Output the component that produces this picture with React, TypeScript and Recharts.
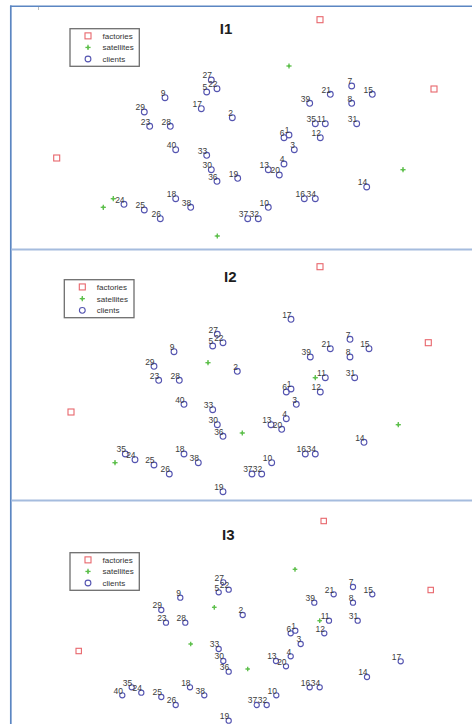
import React from 'react';
import { ScatterChart, Scatter, XAxis, YAxis } from 'recharts';

type Pt = { id?: number; x: number; y: number };

// ---------- Panel I1 (local coordinates) ----------
const factories1: Pt[] = [
  { x: 320, y: 19.7 },
  { x: 434, y: 89 },
  { x: 56.7, y: 158 },
];
const satellites1: Pt[] = [
  { x: 289, y: 66 },
  { x: 403, y: 169.7 },
  { x: 113.3, y: 198.7 },
  { x: 103.3, y: 207.3 },
  { x: 217.3, y: 236 },
];
const clients1: Pt[] = [
  { id: 27, x: 211.3, y: 80 },
  { id: 22, x: 217, y: 88.7 },
  { id: 5, x: 206.7, y: 92 },
  { id: 9, x: 165, y: 97.7 },
  { id: 17, x: 201.3, y: 108.7 },
  { id: 2, x: 232.3, y: 117.7 },
  { id: 29, x: 144.3, y: 112 },
  { id: 23, x: 149.7, y: 126.3 },
  { id: 28, x: 170.3, y: 126.3 },
  { id: 40, x: 175.7, y: 149.7 },
  { id: 33, x: 206.7, y: 155.3 },
  { id: 30, x: 211.3, y: 169.7 },
  { id: 36, x: 217, y: 181.3 },
  { id: 19, x: 237.7, y: 178.3 },
  { id: 13, x: 268.3, y: 169.7 },
  { id: 20, x: 279.3, y: 175 },
  { id: 4, x: 284, y: 164 },
  { id: 6, x: 284, y: 137.7 },
  { id: 1, x: 289, y: 135 },
  { id: 3, x: 294.3, y: 149.7 },
  { id: 39, x: 309.7, y: 103.3 },
  { id: 21, x: 330.3, y: 94.3 },
  { id: 7, x: 351.7, y: 86 },
  { id: 15, x: 372.3, y: 94.3 },
  { id: 8, x: 351.7, y: 103.3 },
  { id: 35, x: 315.3, y: 123.7 },
  { id: 11, x: 325.3, y: 123.7 },
  { id: 31, x: 356.7, y: 123.7 },
  { id: 12, x: 320.3, y: 137.7 },
  { id: 14, x: 366.7, y: 187 },
  { id: 16, x: 304.3, y: 198.7 },
  { id: 34, x: 315.3, y: 198.7 },
  { id: 10, x: 268.3, y: 207.3 },
  { id: 37, x: 247.7, y: 218.7 },
  { id: 32, x: 258.3, y: 218.7 },
  { id: 18, x: 175.7, y: 198.7 },
  { id: 38, x: 190.7, y: 207.3 },
  { id: 24, x: 124, y: 204.3 },
  { id: 25, x: 144.3, y: 210 },
  { id: 26, x: 160.3, y: 218.7 },
];

// ---------- Panel I2 ----------
const factories2: Pt[] = [
  { x: 320, y: 21.7 },
  { x: 428.3, y: 97.7 },
  { x: 71, y: 167 },
];
const satellites2: Pt[] = [
  { x: 208, y: 117.7 },
  { x: 315.3, y: 132.7 },
  { x: 398.3, y: 179.7 },
  { x: 242.3, y: 188 },
  { x: 115, y: 217.7 },
];
const clients2: Pt[] = [
  { id: 17, x: 291, y: 74.3 },
  { id: 27, x: 217.3, y: 89.3 },
  { id: 22, x: 223, y: 97.7 },
  { id: 5, x: 212.7, y: 101 },
  { id: 9, x: 174, y: 106.7 },
  { id: 21, x: 330.3, y: 103.7 },
  { id: 7, x: 350, y: 94.3 },
  { id: 15, x: 369, y: 103.7 },
  { id: 39, x: 310.3, y: 112 },
  { id: 8, x: 350, y: 112 },
  { id: 29, x: 154, y: 121.3 },
  { id: 2, x: 237.3, y: 126.3 },
  { id: 23, x: 158.7, y: 135.3 },
  { id: 28, x: 179.3, y: 135.3 },
  { id: 11, x: 325.3, y: 132.7 },
  { id: 31, x: 354.7, y: 132.7 },
  { id: 6, x: 286.3, y: 147 },
  { id: 1, x: 291, y: 144 },
  { id: 12, x: 320.3, y: 147 },
  { id: 40, x: 184, y: 159.3 },
  { id: 3, x: 296.3, y: 159.3 },
  { id: 33, x: 212.7, y: 164.7 },
  { id: 4, x: 286.3, y: 173.7 },
  { id: 30, x: 217.3, y: 179.7 },
  { id: 13, x: 271, y: 179.7 },
  { id: 20, x: 281.7, y: 184.3 },
  { id: 36, x: 223, y: 191.3 },
  { id: 14, x: 364, y: 197.3 },
  { id: 35, x: 125.3, y: 209 },
  { id: 24, x: 135, y: 214.7 },
  { id: 18, x: 184, y: 209 },
  { id: 16, x: 305.3, y: 209 },
  { id: 34, x: 315.3, y: 209 },
  { id: 38, x: 198.3, y: 217.7 },
  { id: 10, x: 271.7, y: 217.7 },
  { id: 25, x: 154, y: 220 },
  { id: 26, x: 169.3, y: 229 },
  { id: 37, x: 252, y: 229 },
  { id: 32, x: 261.7, y: 229 },
  { id: 19, x: 223, y: 246.7 },
];

// ---------- Panel I3 ----------
const factories3: Pt[] = [
  { x: 323.7, y: 26 },
  { x: 430.7, y: 95 },
  { x: 78.7, y: 156 },
];
const satellites3: Pt[] = [
  { x: 295, y: 74.3 },
  { x: 214.3, y: 112.3 },
  { x: 319.7, y: 125.7 },
  { x: 190.7, y: 149 },
  { x: 247.7, y: 174 },
];
const clients3: Pt[] = [
  { id: 27, x: 223.3, y: 87.3 },
  { id: 22, x: 228.7, y: 94.7 },
  { id: 5, x: 218.7, y: 97.3 },
  { id: 9, x: 180.3, y: 102.7 },
  { id: 7, x: 353, y: 92 },
  { id: 21, x: 333.7, y: 99.3 },
  { id: 15, x: 372.3, y: 99.3 },
  { id: 39, x: 314.3, y: 107.7 },
  { id: 8, x: 353, y: 107.7 },
  { id: 29, x: 161.3, y: 115 },
  { id: 2, x: 242.7, y: 120 },
  { id: 11, x: 329, y: 125.7 },
  { id: 31, x: 357.7, y: 125.7 },
  { id: 23, x: 166, y: 127.7 },
  { id: 28, x: 185.3, y: 127.7 },
  { id: 6, x: 290.7, y: 138.3 },
  { id: 1, x: 295.3, y: 135.7 },
  { id: 12, x: 324.3, y: 138.3 },
  { id: 3, x: 300.7, y: 149 },
  { id: 33, x: 218.7, y: 154 },
  { id: 4, x: 290.7, y: 161.3 },
  { id: 30, x: 223.3, y: 166 },
  { id: 13, x: 276, y: 166 },
  { id: 20, x: 286, y: 171.3 },
  { id: 17, x: 400.7, y: 166.3 },
  { id: 36, x: 228.7, y: 176.7 },
  { id: 14, x: 367, y: 182 },
  { id: 18, x: 190, y: 192.3 },
  { id: 16, x: 309.7, y: 192.3 },
  { id: 34, x: 319.7, y: 192.3 },
  { id: 35, x: 131.7, y: 192.3 },
  { id: 24, x: 141.3, y: 197.7 },
  { id: 40, x: 122.3, y: 200.3 },
  { id: 25, x: 161.3, y: 202 },
  { id: 38, x: 204.3, y: 200.3 },
  { id: 10, x: 276.3, y: 200.3 },
  { id: 26, x: 175.7, y: 210 },
  { id: 37, x: 256.7, y: 210 },
  { id: 32, x: 266.7, y: 210 },
  { id: 19, x: 228.7, y: 225.7 },
];

const legendLabels = ['factories', 'satellites', 'clients'];

const RED = '#e8666c';
const GREEN = '#5cbf4a';
const BLUE = '#5454b0';
const FONT = '"Liberation Sans", Arial, sans-serif';

const makeFactory = (s: number) => (p: any) => {
  const { cx, cy } = p;
  const h = 3 * s;
  return <rect x={cx - h} y={cy - h} width={2 * h} height={2 * h} fill="none" stroke={RED} strokeWidth={1.1} />;
};

const makeSatellite = (s: number) => (p: any) => {
  const { cx, cy } = p;
  const h = 2.6 * s;
  return (
    <g>
      <line x1={cx - h} y1={cy} x2={cx + h} y2={cy} stroke={GREEN} strokeWidth={1.3} />
      <line x1={cx} y1={cy - h} x2={cx} y2={cy + h} stroke={GREEN} strokeWidth={1.3} />
      <circle cx={cx} cy={cy} r={1.2 * s} fill={GREEN} />
    </g>
  );
};

const makeClient = (s: number) => (p: any) => {
  const { cx, cy, payload } = p;
  return (
    <g>
      <circle cx={cx} cy={cy} r={2.9 * s} fill="none" stroke={BLUE} strokeWidth={1.1} />
      <text x={cx + 0.6} y={cy - 1.8} textAnchor="end" fontSize={8.5} fill="#3c3c3c" fontFamily={FONT}>
        {payload.id}
      </text>
    </g>
  );
};

type PanelProps = {
  top: number;
  height: number;
  factories: Pt[];
  satellites: Pt[];
  clients: Pt[];
  title: string;
  titleX: number;
  titleY: number;
  lx: number;
  ly: number;
  lw: number;
  lh: number;
  mScale: number;
};

const Panel = (pp: PanelProps) => {
  const { top, height, factories, satellites, clients, title, titleX, titleY, lx, ly, lw, lh, mScale } = pp;
  const rowGap = lh / 3.25;
  const rows = [0, 1, 2].map((i) => ly + rowGap * (0.62 + i));
  const mx = lx + 18;
  return (
    <div style={{ position: 'absolute', left: 0, top, width: 472, height }}>
      <ScatterChart width={472} height={height} margin={{ top: 0, right: 0, bottom: 0, left: 0 }}>
        <XAxis type="number" dataKey="x" domain={[0, 472]} hide allowDataOverflow />
        <YAxis type="number" dataKey="y" domain={[0, height]} reversed hide allowDataOverflow />
        <Scatter data={factories} shape={makeFactory(mScale)} isAnimationActive={false} />
        <Scatter data={satellites} shape={makeSatellite(mScale)} isAnimationActive={false} />
        <Scatter data={clients} shape={makeClient(mScale)} isAnimationActive={false} />
      </ScatterChart>
      <svg width={472} height={height} style={{ position: 'absolute', left: 0, top: 0, pointerEvents: 'none' }}>
        <text x={titleX} y={titleY} textAnchor="middle" fontSize={15} fontWeight="bold" fill="#1e1e1e" fontFamily={FONT}>
          {title}
        </text>
        <rect x={lx} y={ly} width={lw} height={lh} fill="#fff" stroke="#6e6e6e" strokeWidth={1.3} />
        {rows.map((ry, i) => (
          <g key={i}>
            {i === 0 && <rect x={mx - 3} y={ry - 3} width={6} height={6} fill="none" stroke={RED} strokeWidth={1.1} />}
            {i === 1 && (
              <g>
                <line x1={mx - 2.6} y1={ry} x2={mx + 2.6} y2={ry} stroke={GREEN} strokeWidth={1.3} />
                <line x1={mx} y1={ry - 2.6} x2={mx} y2={ry + 2.6} stroke={GREEN} strokeWidth={1.3} />
                <circle cx={mx} cy={ry} r={1.2} fill={GREEN} />
              </g>
            )}
            {i === 2 && <circle cx={mx} cy={ry} r={2.9} fill="none" stroke={BLUE} strokeWidth={1.1} />}
            <text x={lx + 32.5} y={ry + 3} fontSize={8} fill="#333" fontFamily={FONT}>
              {legendLabels[i]}
            </text>
          </g>
        ))}
      </svg>
    </div>
  );
};

export default function App() {
  return (
    <div style={{ position: 'absolute', left: 0, top: 0, width: 472, height: 724, background: '#fff', overflow: 'hidden' }}>
      <Panel top={0} height={250} factories={factories1} satellites={satellites1} clients={clients1}
        title="I1" titleX={226} titleY={34} lx={70} ly={28.7} lw={69.3} lh={37.6} mScale={1} />
      <Panel top={245} height={255} factories={factories2} satellites={satellites2} clients={clients2}
        title="I2" titleX={230.3} titleY={37.3} lx={64.3} ly={34.7} lw={69.7} lh={38} mScale={1} />
      <Panel top={495} height={229} factories={factories3} satellites={satellites3} clients={clients3}
        title="I3" titleX={228.3} titleY={45} lx={70} ly={57.7} lw={69.3} lh={37.6} mScale={0.9} />
      <svg width={472} height={724} style={{ position: 'absolute', left: 0, top: 0, pointerEvents: 'none' }}>
        <line x1={10} y1={6.3} x2={472} y2={6.3} stroke="#5b86c2" strokeWidth={1.5} />
        <line x1={10.8} y1={5.6} x2={10.8} y2={724} stroke="#5b86c2" strokeWidth={1.7} />
        <line x1={11.6} y1={249.5} x2={472} y2={249.5} stroke="#a5bcde" strokeWidth={2} />
        <line x1={11.6} y1={500.6} x2={472} y2={500.6} stroke="#a5bcde" strokeWidth={2} />
        <line x1={38.5} y1={7} x2={38.5} y2={10} stroke="#aaa" strokeWidth={0.8} />
      </svg>
    </div>
  );
}
